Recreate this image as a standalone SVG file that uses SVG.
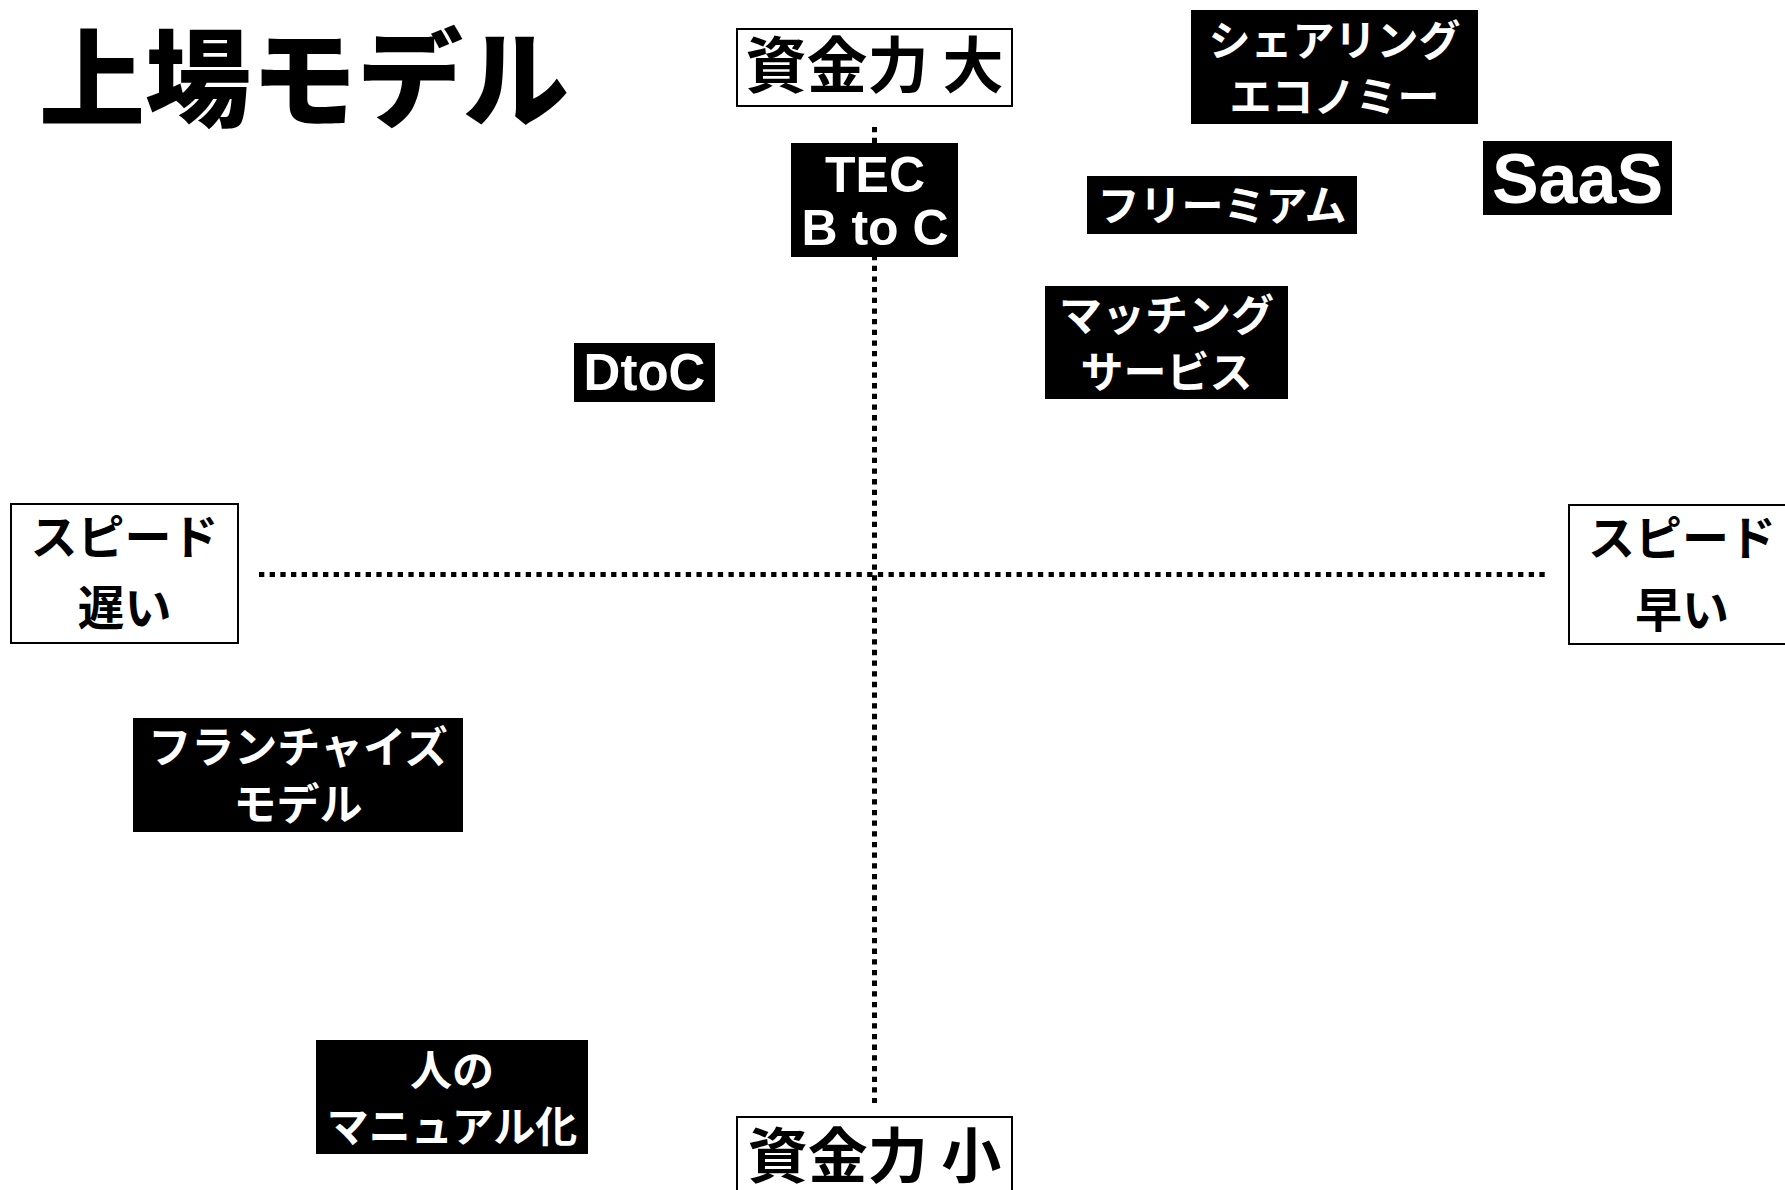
<svg xmlns="http://www.w3.org/2000/svg" width="1785" height="1190" viewBox="0 0 1785 1190">
<style>
.axisbox{fill:#fff;stroke:#000;stroke-width:2}
.blk{fill:#000}
.jp{font-family:"Noto Sans CJK JP","Noto Sans CJK SC",sans-serif;font-weight:700;text-anchor:middle}
.en{font-family:"Liberation Sans",Arial,sans-serif;font-weight:700;text-anchor:middle;fill:#fff}
.wt{fill:#fff}
.bt{fill:#000}
.dot{stroke:#000;stroke-width:5;stroke-dasharray:5.3 5.37;fill:none}
</style>
<rect width="1785" height="1190" fill="#fff"/>
<g id="connectors">
<line class="dot" x1="259" y1="574.5" x2="1549" y2="574.5"/>
<line class="dot" x1="874.5" y1="127" x2="874.5" y2="1103"/>
</g>
<g id="title"><text x="39" y="118" font-family="Noto Sans CJK JP,sans-serif" font-weight="900" font-size="106">上場モデル</text></g>
<g id="fund-large"><rect class="axisbox" x="737" y="29" width="275" height="77"/><text class="jp bt" x="874.5" y="88" font-size="61">資金力 大</text></g>
<g id="fund-small"><rect class="axisbox" x="737" y="1117" width="275" height="80"/><text class="jp bt" x="874.5" y="1178" font-size="60">資金力 小</text></g>
<g id="speed-slow"><rect class="axisbox" x="11" y="504" width="227" height="139"/><text class="jp bt" x="124.5" y="554" font-size="47">スピード</text><text class="jp bt" x="124.5" y="625" font-size="47">遅い</text></g>
<g id="speed-fast"><rect class="axisbox" x="1569" y="505" width="227" height="139"/><text class="jp bt" x="1682" y="555" font-size="47">スピード</text><text class="jp bt" x="1682" y="627" font-size="47">早い</text></g>
<g id="tec-btoc"><rect class="blk" x="791" y="143" width="167" height="114"/><text class="en" x="875" y="192" font-size="50">TEC</text><text class="en" x="875" y="245" font-size="50">B to C</text></g>
<g id="sharing"><rect class="blk" x="1191" y="10" width="287" height="114"/><text class="jp wt" x="1334.5" y="56" font-size="42">シェアリング</text><text class="jp wt" x="1334.5" y="112" font-size="42">エコノミー</text></g>
<g id="saas"><rect class="blk" x="1483" y="141" width="189" height="74"/><text class="en" x="1577.5" y="203" font-size="70">SaaS</text></g>
<g id="freemium"><rect class="blk" x="1087" y="176" width="270" height="58"/><text class="jp wt" x="1222" y="221" font-size="42">フリーミアム</text></g>
<g id="matching"><rect class="blk" x="1045" y="286" width="243" height="113"/><text class="jp wt" x="1166.5" y="331" font-size="43">マッチング</text><text class="jp wt" x="1166.5" y="388" font-size="43">サービス</text></g>
<g id="dtoc"><rect class="blk" x="574" y="343" width="141" height="59"/><text class="en" x="644.5" y="390" font-size="51">DtoC</text></g>
<g id="franchise"><rect class="blk" x="133" y="718" width="330" height="114"/><text class="jp wt" x="298" y="763" font-size="43">フランチャイズ</text><text class="jp wt" x="298" y="820" font-size="43">モデル</text></g>
<g id="manual"><rect class="blk" x="316" y="1040" width="272" height="114"/><text class="jp wt" x="452" y="1086" font-size="42">人の</text><text class="jp wt" x="452" y="1142" font-size="42">マニュアル化</text></g>
</svg>
